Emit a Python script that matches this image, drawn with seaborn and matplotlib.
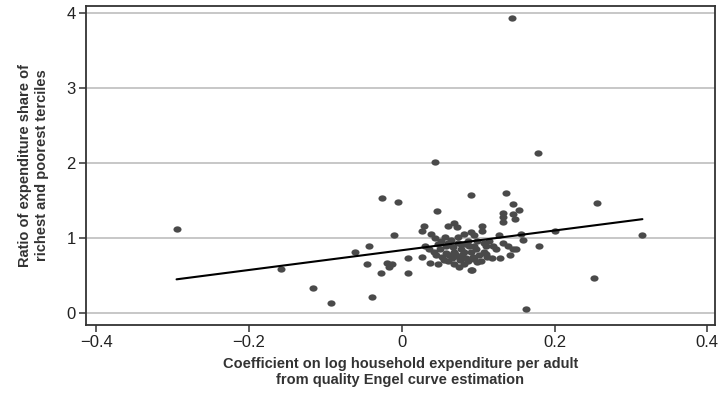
import matplotlib
matplotlib.use("Agg")
import matplotlib.pyplot as plt
import numpy as np
import pandas as pd
import seaborn as sns
from matplotlib.path import Path

# coefficient on log household expenditure per adult (x) and ratio of shares (y)
coef = [-0.295, -0.158, -0.116, -0.093, -0.061, -0.043, -0.046, -0.039, -0.027, -0.026,
        -0.020, -0.017, -0.013, -0.010, -0.005, 0.008, 0.008, 0.044, 0.144, 0.178,
        0.090, 0.136, 0.146, 0.153, 0.132, 0.132, 0.133, 0.146, 0.148, 0.046,
        0.029, 0.026, 0.068, 0.061, 0.072, 0.105, 0.105, 0.256, 0.200, 0.180,
        0.315, 0.252, 0.162, 0.156, 0.127, 0.150, 0.139, 0.092, 0.075, 0.037,
        0.047, 0.141, 0.118, 0.128, 0.038, 0.044, 0.051, 0.056, 0.064, 0.073,
        0.081, 0.090, 0.094, 0.086, 0.099, 0.107, 0.114, 0.119, 0.123, 0.133,
        0.145, 0.030, 0.035, 0.042, 0.050, 0.058, 0.067, 0.068, 0.077, 0.081,
        0.090, 0.097, 0.101, 0.107, 0.112, 0.027, 0.055, 0.061, 0.068, 0.076,
        0.084, 0.093, 0.090, 0.073, 0.077, 0.060, 0.047, 0.094, 0.088, 0.052,
        0.159, 0.110, 0.083, 0.070, 0.062, 0.071, 0.079, 0.086, 0.095, 0.104,
        0.058, 0.066, 0.082, 0.099, 0.110, 0.045]
ratio = [1.12, 0.59, 0.34, 0.13, 0.81, 0.89, 0.65, 0.22, 0.54, 1.54,
         0.67, 0.62, 0.65, 1.04, 1.48, 0.73, 0.54, 2.02, 3.94, 2.14,
         1.58, 1.60, 1.46, 1.37, 1.33, 1.28, 1.21, 1.32, 1.25, 1.36,
         1.16, 1.10, 1.20, 1.16, 1.15, 1.16, 1.10, 1.47, 1.09, 0.90,
         1.04, 0.47, 0.05, 1.05, 1.04, 0.85, 0.89, 0.58, 0.61, 0.67,
         0.66, 0.77, 0.73, 0.73, 1.05, 1.00, 0.96, 1.02, 0.98, 1.01,
         1.05, 1.08, 1.04, 0.96, 0.96, 0.94, 0.96, 0.89, 0.85, 0.94,
         0.85, 0.89, 0.85, 0.82, 0.86, 0.89, 0.88, 0.82, 0.85, 0.81,
         0.81, 0.85, 0.78, 0.82, 0.75, 0.75, 0.71, 0.69, 0.65, 0.71,
         0.74, 0.75, 0.57, 0.94, 0.92, 0.94, 0.92, 0.89, 0.89, 0.75,
         0.98, 0.90, 0.92, 0.79, 0.78, 0.76, 0.77, 0.70, 0.72, 0.70,
         0.80, 0.74, 0.66, 0.68, 0.79, 0.78]

xticks = [-0.4, -0.2, 0, 0.2, 0.4]
xtick_labels = ["\u22120.4", "\u22120.2", "0", "0.2", "0.4"]
yticks = [0, 1, 2, 3, 4]

df = pd.DataFrame({"coef": coef, "ratio": ratio})

# slightly flattened dot, like the printed markers
circ = Path.unit_circle()
dot = Path(circ.vertices * np.array([1.0, 0.78]), circ.codes)

sns.set_style("white")
plt.rcParams["font.family"] = ["Liberation Sans", "DejaVu Sans"]

fig, ax = plt.subplots(figsize=(7.2, 3.94), dpi=100)
fig.subplots_adjust(left=0.119, right=0.993, top=0.985, bottom=0.175)

sns.regplot(data=df, x="coef", y="ratio", ax=ax, ci=None, marker=dot,
            scatter_kws={"s": 34, "color": "#4a4a4a", "linewidths": 0, "alpha": 1},
            line_kws={"color": "black", "lw": 1.5})

ax.set_xlim(-0.414, 0.41)
ax.set_ylim(-0.16, 4.095)
ax.set_xticks(xticks)
ax.set_xticklabels(xtick_labels)
ax.set_yticks(yticks)
ax.yaxis.grid(True, color="#bdbdbd", lw=1.2)
ax.set_axisbelow(True)
for s in ax.spines.values():
    s.set_color("#333333")
    s.set_linewidth(1.3)
ax.tick_params(axis="both", which="major", direction="out", length=5, width=1.1,
               color="#333333", labelsize=12, labelcolor="#222222",
               bottom=True, left=True, pad=2)

ax.set_xlabel("Coefficient on log household expenditure per adult\nfrom quality Engel curve estimation",
              fontsize=10.5, fontweight="bold", color="#333333", labelpad=5, linespacing=1.25)
ax.set_ylabel("Ratio of expenditure share of\nrichest and poorest terciles",
              fontsize=10.5, fontweight="bold", color="#333333", labelpad=13, linespacing=1.25)

fig.savefig("out.png", dpi=100)
